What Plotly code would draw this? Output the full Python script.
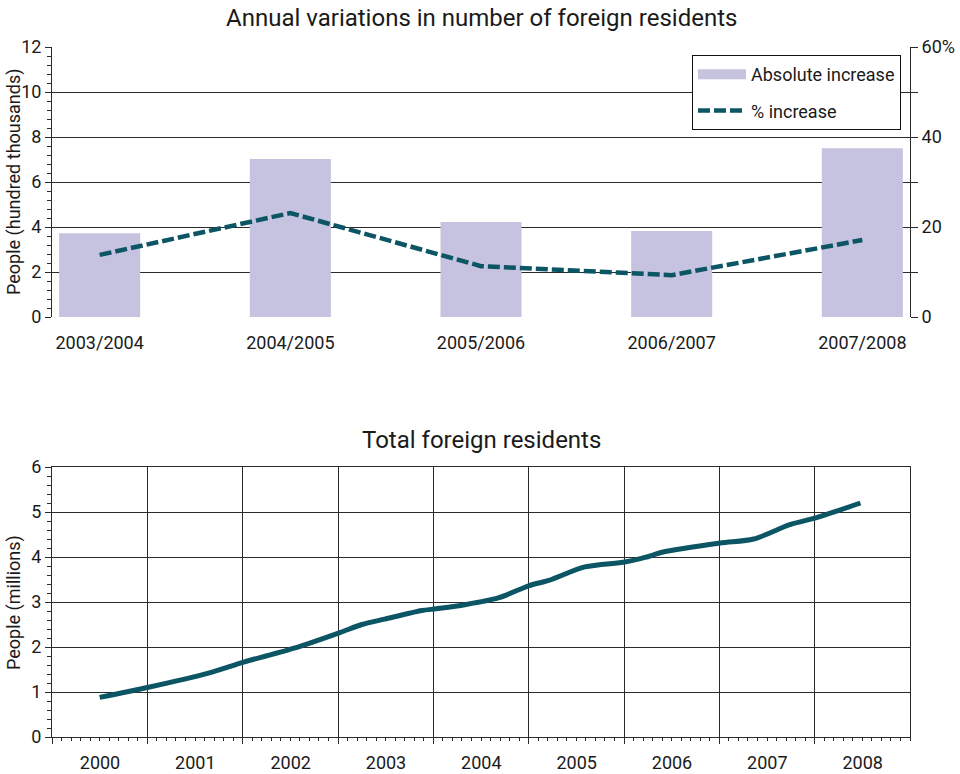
import plotly.graph_objects as go

# ---------------- data ----------------
periods = ["2003/2004", "2004/2005", "2005/2006", "2006/2007", "2007/2008"]
abs_increase = [3.72, 7.02, 4.22, 3.82, 7.50]      # hundred thousands
pct_increase = [13.8, 23.1, 11.3, 9.3, 17.1]       # %

total_time = [2000.0, 2000.5, 2001.14, 2001.52, 2002.05, 2002.52, 2002.75, 2002.99,
              2003.38, 2003.53, 2003.83, 2004.18, 2004.5, 2004.71, 2005.09, 2005.51,
              2005.72, 2005.91, 2006.51, 2006.86, 2007.24, 2007.51, 2007.98]
total_millions = [0.88, 1.10, 1.42, 1.67, 1.98, 2.32, 2.50, 2.62,
                  2.81, 2.85, 2.94, 3.09, 3.36, 3.48, 3.78, 3.89,
                  3.99, 4.11, 4.31, 4.40, 4.72, 4.87, 5.20]
year_labels = ["2000", "2001", "2002", "2003", "2004", "2005", "2006", "2007", "2008"]
year_grid = [1999.5, 2000.5, 2001.5, 2002.5, 2003.5, 2004.5, 2005.5, 2006.5, 2007.5]

pct_ticks = [0, 10, 20, 30, 40, 50, 60]
pct_text = ["0", "", "20", "", "40", "", "60%"]

# ---------------- style ----------------
FONT = "Roboto, Liberation Sans, sans-serif"
TXT = "#1a1a1a"
GRID = "#2a2a2a"
BAR = "#c5c3df"
TEAL = "#0b5565"

fig = go.Figure()

fig.add_trace(go.Bar(x=periods, y=abs_increase, marker_color=BAR, marker_line_width=0,
                     showlegend=False, xaxis="x", yaxis="y", hoverinfo="skip"))
fig.add_trace(go.Scatter(x=[None], y=[None], mode="lines", name="Absolute increase",
                         line=dict(color=BAR, width=10), xaxis="x", yaxis="y",
                         legendgroup="a"))
fig.add_trace(go.Scatter(x=periods, y=pct_increase, mode="lines", name="% increase",
                         line=dict(color=TEAL, width=4.5, dash="12px,4px"),
                         xaxis="x", yaxis="y2", legendgroup="b"))
fig.add_trace(go.Scatter(x=total_time, y=total_millions, mode="lines", showlegend=False,
                         line=dict(color=TEAL, width=5, shape="spline", smoothing=0.8),
                         xaxis="x2", yaxis="y3"))

TOP = [0.6087, 1.0]
BOT = [0.0, 0.3913]
tickfont = dict(family=FONT, size=18, color=TXT)
titlefont = dict(family=FONT, size=18, color=TXT)

fig.update_layout(
    width=960, height=774,
    margin=dict(l=52, r=50, t=47, b=37, autoexpand=False),
    paper_bgcolor="white", plot_bgcolor="white",
    font=dict(family=FONT, size=18, color=TXT),
    bargap=0.575,
    # top chart: categorical axis carries labels
    xaxis=dict(domain=[0, 1], anchor="y", type="category", range=[-0.25, 4.25],
               showgrid=False, ticks="", tickfont=tickfont, showline=False,
               zeroline=False, ticklabelstandoff=13, automargin=False),
    # overlay linear axis for grid + tick marks
    xaxis3=dict(domain=[0, 1], anchor="y", overlaying="x", range=[0, 9], dtick=1, tick0=0,
                showgrid=True, gridcolor=GRID, gridwidth=1, showticklabels=False,
                ticks="outside", ticklen=6, tickcolor=GRID, showline=True,
                linecolor=GRID, linewidth=1, mirror=True, zeroline=False, automargin=False,
                minor=dict(dtick=0.1, ticks="outside", ticklen=3, tickcolor=GRID,
                           showgrid=False)),
    yaxis=dict(domain=TOP, anchor="x", range=[0, 12], dtick=2, showgrid=True,
               gridcolor=GRID, gridwidth=1, ticks="outside", ticklen=6, tickcolor=GRID,
               showline=True, linecolor=GRID, linewidth=1, zeroline=False,
               tickfont=tickfont, automargin=False,
               minor=dict(dtick=0.4, ticks="outside", ticklen=4, tickcolor=GRID,
                          showgrid=False)),
    yaxis2=dict(anchor="x", overlaying="y", side="right", range=[0, 60],
                tickvals=pct_ticks, ticktext=pct_text, showgrid=False, automargin=False,
                ticks="outside", ticklen=7, tickcolor=GRID, showline=True,
                linecolor=GRID, linewidth=1, zeroline=False, tickfont=tickfont),
    # bottom chart
    xaxis2=dict(domain=[0, 1], anchor="y3", range=[1999.5, 2008.5],
                tickvals=year_grid, ticktext=year_labels, ticklabelshift=48,
                ticklabelstandoff=3, automargin=False,
                showgrid=True, gridcolor=GRID, gridwidth=1, ticks="outside", ticklen=6,
                tickcolor=GRID, showline=True, linecolor=GRID, linewidth=1, mirror=True,
                zeroline=False, tickfont=tickfont,
                minor=dict(dtick=0.1, tick0=1999.5, ticks="outside", ticklen=3,
                           tickcolor=GRID, showgrid=False)),
    yaxis3=dict(domain=BOT, anchor="x2", range=[0, 6], dtick=1, showgrid=True,
                gridcolor=GRID, gridwidth=1, ticks="outside", ticklen=6, tickcolor=GRID,
                showline=True, linecolor=GRID, linewidth=1, mirror=True, zeroline=False,
                tickfont=tickfont, automargin=False,
                minor=dict(dtick=0.2, ticks="outside", ticklen=4, tickcolor=GRID,
                           showgrid=False)),
    legend=dict(x=0.9895, xanchor="right", y=0.9884, yanchor="top",
                bgcolor="white", bordercolor="#111", borderwidth=1,
                font=dict(family=FONT, size=18, color=TXT), itemwidth=48,
                traceorder="grouped", tracegroupgap=10),
    annotations=[
        dict(text="Annual variations in number of foreign residents", x=0.5, y=1.042,
             xref="paper", yref="paper", showarrow=False, xanchor="center", yanchor="middle",
             font=dict(family=FONT, size=24, color=TXT)),
        dict(text="Total foreign residents", x=0.5, y=0.4304,
             xref="paper", yref="paper", showarrow=False, xanchor="center", yanchor="middle",
             font=dict(family=FONT, size=24, color=TXT)),
        dict(text="People (hundred thousands)", x=-0.0443, y=0.80435, textangle=-90,
             xref="paper", yref="paper", showarrow=False, xanchor="center", yanchor="middle",
             font=titlefont),
        dict(text="People (millions)", x=-0.0443, y=0.19565, textangle=-90,
             xref="paper", yref="paper", showarrow=False, xanchor="center", yanchor="middle",
             font=titlefont),
    ],
)

fig.write_html(
    "out.html",
    config={"displayModeBar": False},
    post_script="document.body.style.margin='0';document.body.style.overflow='hidden';",
)
